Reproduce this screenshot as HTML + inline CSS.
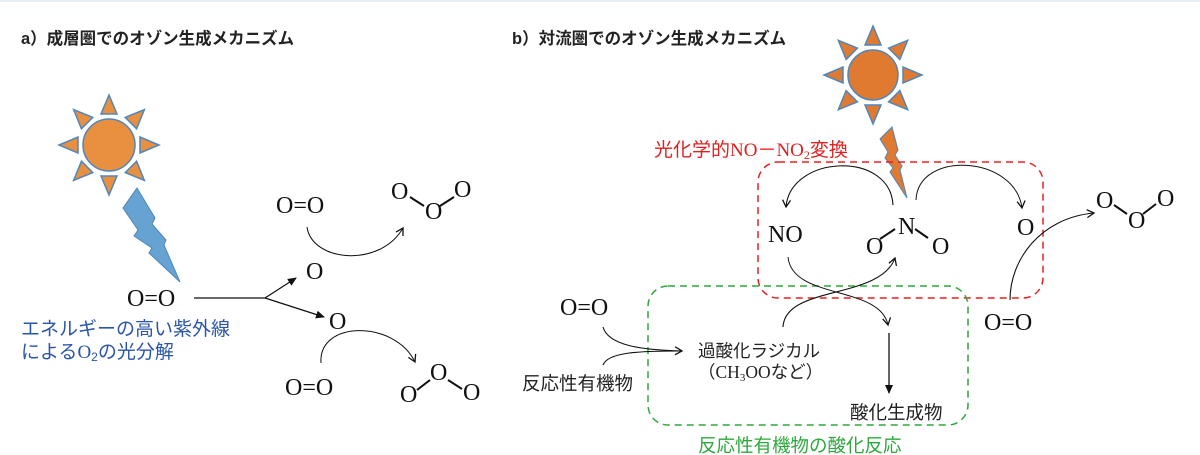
<!DOCTYPE html>
<html><head><meta charset="utf-8"><style>
html,body{margin:0;padding:0;background:#fff;}
svg{display:block;}
text{font-family:"Liberation Sans","Noto Sans CJK JP",sans-serif;}
.o{font-family:"Liberation Serif","Noto Serif CJK SC",serif;font-size:24px;fill:#111;}
.t{font-size:18px;fill:#222;}
</style></head><body>
<svg width="1200" height="455" viewBox="0 0 1200 455" xmlns="http://www.w3.org/2000/svg">
<defs>
<marker id="ah" markerWidth="10" markerHeight="10" refX="8" refY="5" orient="auto" markerUnits="userSpaceOnUse">
<path d="M1,1 L8,5 L1,9" fill="none" stroke="#111" stroke-width="1.3"/></marker>
<marker id="af" markerWidth="10" markerHeight="10" refX="8" refY="5" orient="auto" markerUnits="userSpaceOnUse">
<path d="M0,1 L9,5 L0,9 Z" fill="#111"/></marker>
<g id="ray"><polygon points="-8,0 8,0 0,-19" fill="#e8903f" stroke="#4f86bb" stroke-width="1.5"/></g>
<g id="rayb"><polygon points="-8,0 8,0 0,-19" fill="#e07a30" stroke="#4f86bb" stroke-width="1.5"/></g>
</defs>
<rect x="0" y="0" width="1200" height="2" fill="#e6eef6"/>

<text x="21" y="44" style="font-size:16.5px;font-weight:bold;fill:#222">a）成層圏でのオゾン生成メカニズム</text>
<text x="512" y="44" style="font-size:16.5px;font-weight:bold;fill:#222">b）対流圏でのオゾン生成メカニズム</text>

<!-- sun a -->
<g transform="translate(109,145)">
<circle r="26" fill="#e8903f" stroke="#4f86bb" stroke-width="1.5"/>
<g transform="rotate(0) translate(0,-31)"><use href="#ray"/></g>
<g transform="rotate(45) translate(0,-31)"><use href="#ray"/></g>
<g transform="rotate(90) translate(0,-31)"><use href="#ray"/></g>
<g transform="rotate(135) translate(0,-31)"><use href="#ray"/></g>
<g transform="rotate(180) translate(0,-31)"><use href="#ray"/></g>
<g transform="rotate(225) translate(0,-31)"><use href="#ray"/></g>
<g transform="rotate(270) translate(0,-31)"><use href="#ray"/></g>
<g transform="rotate(315) translate(0,-31)"><use href="#ray"/></g>
</g>
<polygon points="137,188 123,208 138,230 134,236 152,248 149,253 180,282 164,245 166,240 152,224 155,218 137,188" fill="#66a3d2" stroke="#4f86bb" stroke-width="1"/>

<text class="o" x="127" y="306">O=O</text>
<path d="M194,298 L265,298 L296,278" fill="none" stroke="#111" stroke-width="1.2" marker-end="url(#af)"/>
<path d="M265,298 L324,317" fill="none" stroke="#111" stroke-width="1.2" marker-end="url(#af)"/>
<text class="o" x="306" y="279">O</text>
<text class="o" x="329" y="329">O</text>
<text class="o" x="276" y="213">O=O</text>
<text class="o" x="391" y="199">O</text>
<text class="o" x="425" y="219">O</text>
<text class="o" x="454" y="197">O</text>
<line x1="410" y1="197" x2="424" y2="206" stroke="#111" stroke-width="2"/>
<line x1="440" y1="206" x2="454" y2="197" stroke="#111" stroke-width="2"/>
<path d="M307,227 C312,262 380,268 403,228" fill="none" stroke="#111" stroke-width="1" marker-end="url(#ah)"/>
<text class="o" x="285" y="395">O=O</text>
<text class="o" x="400" y="402">O</text>
<text class="o" x="430" y="380">O</text>
<text class="o" x="463" y="400">O</text>
<line x1="417" y1="390" x2="430" y2="380" stroke="#111" stroke-width="2"/>
<line x1="448" y1="380" x2="462" y2="389" stroke="#111" stroke-width="2"/>
<path d="M321,363 C318,320 395,320 415,362" fill="none" stroke="#111" stroke-width="1" marker-end="url(#ah)"/>
<text x="21" y="335" style="font-size:19px;fill:#2a55a8">エネルギーの高い紫外線</text>
<text x="21" y="358" style="font-size:19px;fill:#2a55a8">による<tspan style="font-family:'Liberation Serif',serif">O</tspan><tspan style="font-size:12px" dy="3">2</tspan><tspan dy="-3">の光分解</tspan></text>

<!-- sun b -->
<g transform="translate(873,75)">
<circle r="25" fill="#e07a30" stroke="#4f86bb" stroke-width="1.5"/>
<g transform="rotate(0) translate(0,-30)"><use href="#rayb"/></g>
<g transform="rotate(45) translate(0,-30)"><use href="#rayb"/></g>
<g transform="rotate(90) translate(0,-30)"><use href="#rayb"/></g>
<g transform="rotate(135) translate(0,-30)"><use href="#rayb"/></g>
<g transform="rotate(180) translate(0,-30)"><use href="#rayb"/></g>
<g transform="rotate(225) translate(0,-30)"><use href="#rayb"/></g>
<g transform="rotate(270) translate(0,-30)"><use href="#rayb"/></g>
<g transform="rotate(315) translate(0,-30)"><use href="#rayb"/></g>
</g>
<polygon points="892,127 880,139 888,152 885,158 893,168 890,172 907,198 900,170 902,166 895,155 898,150 892,127" fill="#e07a30" stroke="#4f86bb" stroke-width="1"/>

<text x="654" y="156" style="font-size:19px;fill:#e02020;font-family:'Liberation Serif','Noto Sans CJK JP',serif">光化学的NO－NO<tspan style="font-size:12px" dy="3">2</tspan><tspan dy="-3">変換</tspan></text>
<rect x="758" y="162" width="285" height="136" rx="20" fill="none" stroke="#e82020" stroke-width="1.5" stroke-dasharray="7,5"/>
<rect x="648" y="286" width="320" height="139" rx="20" fill="none" stroke="#2ea83c" stroke-width="1.5" stroke-dasharray="7,5"/>

<text class="o" x="768" y="242">NO</text>
<text class="o" x="898" y="234">N</text>
<text class="o" x="866" y="254">O</text>
<text class="o" x="932" y="254">O</text>
<line x1="880" y1="239" x2="895" y2="229" stroke="#111" stroke-width="2"/>
<line x1="915" y1="229" x2="928" y2="238" stroke="#111" stroke-width="2"/>
<text class="o" x="1017" y="235">O</text>
<text class="o" x="1096" y="208">O</text>
<text class="o" x="1128" y="228">O</text>
<text class="o" x="1157" y="206">O</text>
<line x1="1114" y1="205" x2="1127" y2="214" stroke="#111" stroke-width="2"/>
<line x1="1143" y1="214" x2="1156" y2="204" stroke="#111" stroke-width="2"/>
<text class="o" x="984" y="330">O=O</text>
<text class="o" x="560" y="315">O=O</text>

<path d="M893,205 C890,150 790,155 786,207" fill="none" stroke="#111" stroke-width="1.1" marker-end="url(#ah)"/>
<path d="M916,200 C918,150 1015,155 1022,208" fill="none" stroke="#111" stroke-width="1" marker-end="url(#ah)"/>
<path d="M788,257 C792,300 880,285 888,325" fill="none" stroke="#111" stroke-width="1" marker-end="url(#ah)"/>
<path d="M783,327 C785,285 880,300 895,258" fill="none" stroke="#111" stroke-width="1.1" marker-end="url(#ah)"/>
<line x1="889" y1="333" x2="889" y2="393" stroke="#111" stroke-width="1.3" marker-end="url(#af)"/>
<path d="M1010,300 C1010,260 1040,218 1094,213" fill="none" stroke="#111" stroke-width="1.1" marker-end="url(#ah)"/>
<path d="M603,327 C608,345 640,350 682,351" fill="none" stroke="#111" stroke-width="1.1" marker-end="url(#ah)"/>
<path d="M603,365 C608,352 640,351 680,351" fill="none" stroke="#111" stroke-width="1.1"/>

<text class="t" x="522" y="390" style="font-size:18.5px">反応性有機物</text>
<text class="t" x="698" y="357" style="font-size:17.5px">過酸化ラジカル</text>
<text class="t" x="698" y="378" style="font-family:'Liberation Serif','Noto Sans CJK JP',serif;font-size:17.5px">（CH<tspan style="font-size:11px" dy="3">3</tspan><tspan dy="-3">OOなど）</tspan></text>
<text class="t" x="850" y="419" style="font-size:18.5px">酸化生成物</text>
<text x="698" y="452" style="font-size:18.5px;fill:#2ea83c">反応性有機物の酸化反応</text>
</svg>
</body></html>
